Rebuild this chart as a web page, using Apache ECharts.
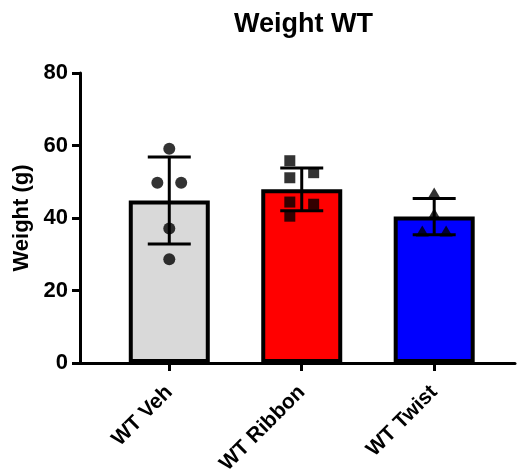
<!DOCTYPE html>
<html>
<head>
<meta charset="utf-8">
<title>Weight WT</title>
<script src="https://cdn.jsdelivr.net/npm/echarts@6/dist/echarts.min.js"></script>
<style>
  html, body { margin: 0; padding: 0; background: #fff; }
  #chart { width: 517px; height: 474px; }
</style>
</head>
<body>
<div id="chart"></div>
<script>
// groups on the x axis
const categories = ['WT Veh', 'WT Ribbon', 'WT Twist'];
// bar heights (mean) and error bars (SD)
const means = [44.8, 47.9, 40.4];
const sds = [12.0, 5.9, 5.0];
const barColors = ['#d9d9d9', '#ff0000', '#0000ff'];
// individual animals per group, with their horizontal jitter (in group units)
const vehValues = [59.1, 49.7, 49.7, 37.1, 28.6];
const vehJitter = [0, -0.09, 0.09, 0, 0];
const ribbonValues = [55.8, 51.1, 52.5, 44.4, 40.5, 43.8];
const ribbonJitter = [-0.09, -0.09, 0.09, -0.09, -0.09, 0.09];
const twistValues = [46.9, 41.2, 36.4, 36.4];
const twistJitter = [0, 0, -0.09, 0.09];
const yTicks = [0, 20, 40, 60, 80];

const font = '"Liberation Sans", Arial, sans-serif';

const chart = echarts.init(document.getElementById('chart'), null, { renderer: 'canvas' });

// turn a group's values + jitter into [x, y] points
function points(groupIndex, values, jitter) {
  return values.map((v, i) => [groupIndex + jitter[i], v]);
}

const option = {
  backgroundColor: '#fff',
  animation: false,
  title: {
    text: 'Weight WT',
    left: 229,
    top: 6,
    textStyle: { fontFamily: font, fontWeight: 'bold', fontSize: 27, color: '#000' }
  },
  grid: { left: 80, right: 2, top: 73, bottom: 111, containLabel: false, outerBoundsMode: 'none' },
  xAxis: {
    type: 'value',
    min: -0.674,
    max: 2.61,
    axisLine: { show: true, onZero: false, lineStyle: { color: '#000', width: 3 } },
    axisTick: { show: true, customValues: [0, 1, 2], length: 8, lineStyle: { color: '#000', width: 3 } },
    axisLabel: {
      customValues: [0, 1, 2],
      formatter: v => categories[Math.round(v)],
      rotate: 45,
      margin: 26,
      color: '#000',
      fontFamily: font,
      fontWeight: 'bold',
      fontSize: 21
    },
    splitLine: { show: false }
  },
  yAxis: {
    type: 'value',
    min: yTicks[0],
    max: yTicks[yTicks.length - 1],
    interval: 20,
    name: 'Weight (g)',
    nameLocation: 'middle',
    nameGap: 38,
    nameTextStyle: { fontFamily: font, fontWeight: 'bold', fontSize: 22, color: '#000' },
    axisLine: { show: true, onZero: false, lineStyle: { color: '#000', width: 3 } },
    axisTick: { show: true, length: 8, lineStyle: { color: '#000', width: 3 } },
    axisLabel: { margin: 12, color: '#000', fontFamily: font, fontWeight: 'bold', fontSize: 22 },
    splitLine: { show: false }
  },
  series: [
    {
      type: 'bar',
      barWidth: 81,
      z: 2,
      data: means.map((m, i) => ({
        value: [i, m],
        itemStyle: { color: barColors[i], borderColor: '#000', borderWidth: 4 }
      }))
    },
    {
      type: 'custom',
      z: 3,
      data: means.map((m, i) => [i, m, sds[i]]),
      renderItem: function (params, api) {
        const x = api.value(0), m = api.value(1), s = api.value(2);
        const top = api.coord([x, m + s]);
        const bot = api.coord([x, m - s]);
        const half = 21.5;
        const style = { stroke: '#000', lineWidth: 3 };
        return {
          type: 'group',
          children: [
            { type: 'line', shape: { x1: top[0], y1: top[1], x2: bot[0], y2: bot[1] }, style },
            { type: 'line', shape: { x1: top[0] - half, y1: top[1], x2: top[0] + half, y2: top[1] }, style },
            { type: 'line', shape: { x1: bot[0] - half, y1: bot[1], x2: bot[0] + half, y2: bot[1] }, style }
          ]
        };
      }
    },
    {
      type: 'scatter',
      z: 4,
      symbol: 'circle',
      symbolSize: 12,
      itemStyle: { color: '#000' },
      data: points(0, vehValues, vehJitter)
    },
    {
      type: 'scatter',
      z: 4,
      symbol: 'rect',
      symbolSize: 11,
      itemStyle: { color: '#000' },
      data: points(1, ribbonValues, ribbonJitter)
    },
    {
      type: 'scatter',
      z: 4,
      symbol: 'triangle',
      symbolSize: [13, 11],
      itemStyle: { color: '#000' },
      data: points(2, twistValues, twistJitter)
    }
  ]
};

chart.setOption(option);
</script>
</body>
</html>
